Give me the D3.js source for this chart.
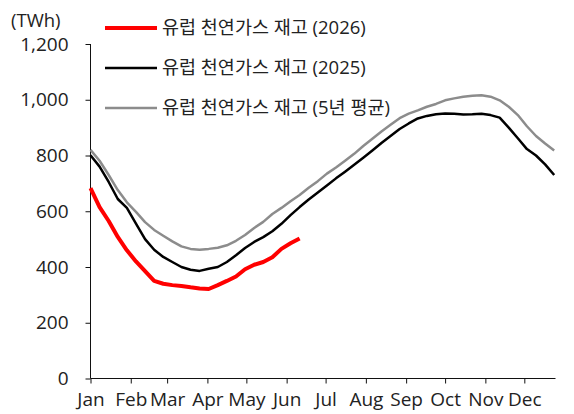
<!DOCTYPE html>
<html>
<head>
<meta charset="utf-8">
<script src="https://cdn.jsdelivr.net/npm/d3@7"></script>
<style>
    body { margin: 0; background: #fff; }
    text { font-family: "Open Sans", "Noto Sans CJK KR", sans-serif; fill: #222; }
</style>
</head>
<body>
<div id="chart"></div>
<script>
// weekly points, day of year (0 = Jan 1)
const weeks = d3.range(0, 52).map(k => k * 7);

const months = ["Jan", "Feb", "Mar", "Apr", "May", "Jun", "Jul", "Aug", "Sep", "Oct", "Nov", "Dec"];
const monthStart = [0, 31, 59, 90, 120, 151, 181, 212, 243, 273, 304, 334];
const yTicks = [0, 200, 400, 600, 800, 1000, 1200];

const seriesNames = ["유럽 천연가스 재고 (2026)", "유럽 천연가스 재고 (2025)", "유럽 천연가스 재고 (5년 평균)"];

// storage in TWh
const stock2026 = [683, 615, 565, 508, 460, 420, 385, 350, 340, 335, 332, 327, 323, 321, 335, 350,
    366, 392, 408, 418, 435, 465, 485, 502];

const stock2025 = [801, 760, 705, 644, 612, 556, 500, 462, 436, 418, 400, 390, 386, 394, 400, 418,
    442, 468, 490, 507, 528, 555, 586, 615, 642, 667, 692, 718, 742, 767, 792, 818,
    845, 870, 895, 915, 933, 942, 948, 951, 950, 947, 948, 950, 945, 936, 900, 862,
    823, 800, 768, 730];

const stock5yr = [820, 781, 730, 676, 632, 598, 561, 533, 512, 492, 474, 465, 462, 465, 469, 478,
    494, 515, 540, 562, 590, 612, 636, 658, 684, 708, 735, 757, 781, 806, 834, 860,
    886, 910, 934, 950, 962, 975, 985, 998, 1005, 1011, 1014, 1016, 1011, 998, 975, 945,
    905, 870, 843, 818];

// scales
const x = d3.scaleLinear([0, 358], [90.5, 555.5]);
const y = d3.scaleLinear([0, 1200], [378.5, 44]);

let svg = d3.select("#chart")
    .append("svg")
    .attr("width", 574)
    .attr("height", 414);

// axes
let yAxis = d3.axisLeft(y)
    .tickValues(yTicks)
    .tickSize(5)
    .tickPadding(17)
    .tickFormat(d3.format(",.0f"));

let xAxis = d3.axisBottom(x)
    .tickValues(monthStart)
    .tickSize(5)
    .tickPadding(9)
    .tickFormat((d, i) => months[i]);

let gy = svg.append("g")
    .attr("transform", "translate(90.5, 0)")
    .call(yAxis);
gy.select(".domain").attr("d", "M0," + y(1200) + "V" + y(0));

let gx = svg.append("g")
    .attr("transform", "translate(0, 378.5)")
    .call(xAxis);
gx.select(".domain").attr("d", "M" + x(0) + ",0H" + x(358));

svg.selectAll(".tick text")
    .style("font-size", "19px")
    .style("font-family", "'Open Sans', 'Noto Sans CJK KR', sans-serif")
    .attr("fill", "#222");
svg.selectAll(".domain, .tick line").attr("stroke", "#111");

// unit label
svg.append("text")
    .attr("x", 11)
    .attr("y", 27)
    .style("font-size", "18.5px")
    .text("(TWh)");

// lines
let line = d3.line()
    .x((d, i) => x(weeks[i]))
    .y(d => y(d));

const series = [
    { values: stock5yr, color: "#8c8c8c", width: 2.5 },
    { values: stock2025, color: "#000000", width: 2.5 },
    { values: stock2026, color: "#ff0000", width: 4 }
];

svg.selectAll("path.series")
    .data(series)
    .enter()
    .append("path")
    .attr("class", "series")
    .attr("d", d => line(d.values))
    .attr("fill", "none")
    .attr("stroke", d => d.color)
    .attr("stroke-width", d => d.width)
    .attr("stroke-linejoin", "round");

// legend
const legendColors = ["#ff0000", "#000000", "#8c8c8c"];
const legendWidths = [4, 2.5, 2.5];

let legend = svg.selectAll("g.legend")
    .data(seriesNames)
    .enter()
    .append("g")
    .attr("class", "legend")
    .attr("transform", (d, i) => "translate(105," + (28 + i * 40) + ")");

legend.append("line")
    .attr("x1", 0)
    .attr("x2", 52)
    .attr("stroke", (d, i) => legendColors[i])
    .attr("stroke-width", (d, i) => legendWidths[i]);

legend.append("text")
    .attr("x", 57)
    .attr("dy", "0.35em")
    .style("font-size", "18.5px")
    .text(d => d);
</script>
</body>
</html>
